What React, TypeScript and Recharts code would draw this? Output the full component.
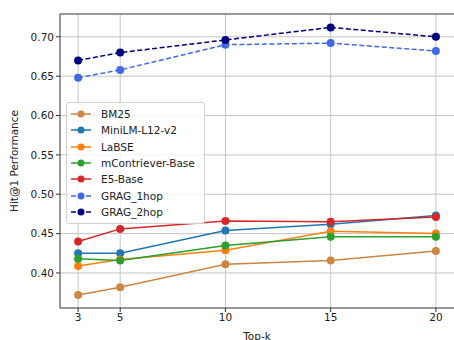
import React from "react";
import { LineChart, Line, XAxis, YAxis, CartesianGrid, ReferenceLine } from "recharts";

const topK = [3, 5, 10, 15, 20];
const bm25 = [0.372, 0.382, 0.411, 0.416, 0.428];
const miniLM = [0.425, 0.425, 0.454, 0.462, 0.473];
const labse = [0.409, 0.417, 0.429, 0.453, 0.45];
const mContriever = [0.418, 0.416, 0.435, 0.446, 0.446];
const e5 = [0.44, 0.456, 0.466, 0.465, 0.471];
const grag1 = [0.648, 0.658, 0.69, 0.692, 0.682];
const grag2 = [0.67, 0.68, 0.696, 0.712, 0.7];
const yTicks = [0.4, 0.45, 0.5, 0.55, 0.6, 0.65, 0.7];
const xDomain = [2.14, 20.86];
const yDomain = [0.3555, 0.729];

const series = [
  { key: "bm25", name: "BM25", color: "#cd853f", dashed: false, values: bm25 },
  { key: "minilm", name: "MiniLM-L12-v2", color: "#1f77b4", dashed: false, values: miniLM },
  { key: "labse", name: "LaBSE", color: "#ff7f0e", dashed: false, values: labse },
  { key: "mcontriever", name: "mContriever-Base", color: "#2ca02c", dashed: false, values: mContriever },
  { key: "e5", name: "E5-Base", color: "#d62728", dashed: false, values: e5 },
  { key: "grag1", name: "GRAG_1hop", color: "#4169e1", dashed: true, values: grag1 },
  { key: "grag2", name: "GRAG_2hop", color: "#000080", dashed: true, values: grag2 },
];

const data = topK.map((k, i) => {
  const row: any = { k };
  series.forEach((s) => (row[s.key] = s.values[i]));
  return row;
});

const font = "DejaVu Sans, sans-serif";

const LegendBox = () => (
  <div
    style={{
      position: "absolute",
      left: 66,
      top: 102,
      width: 139,
      padding: "3px 0",
      background: "rgba(255,255,255,0.8)",
      border: "1px solid #d0d0d0",
      borderRadius: 3,
      fontFamily: font,
      fontSize: 10.5,
      color: "#222",
      boxSizing: "border-box",
    }}
  >
    {series.map((s) => (
      <div key={s.key} style={{ display: "flex", alignItems: "center", height: 16.3 }}>
        <svg width={34} height={12} style={{ flex: "none" }}>
          <line x1={4} x2={24} y1={6} y2={6} stroke={s.color} strokeWidth={1.5} strokeDasharray={s.dashed ? "5 2.5" : undefined} />
          <circle cx={14} cy={6} r={3.5} fill={s.color} />
        </svg>
        <span>{s.name}</span>
      </div>
    ))}
  </div>
);

export default function App() {
  return (
    <div style={{ position: "absolute", left: 0, top: 0, width: 454, height: 340, background: "#fff", overflow: "hidden" }}>
      <LineChart width={454} height={340} data={data} margin={{ top: 14, right: 0, bottom: 0, left: 0 }}>
        <CartesianGrid stroke="#c4c4c4" strokeWidth={1} verticalValues={topK} horizontalValues={yTicks} />
        <XAxis
          dataKey="k"
          type="number"
          domain={xDomain}
          ticks={topK}
          height={32}
          stroke="#333"
          tick={{ fill: "#222", fontSize: 10.5, fontFamily: font }}
          tickSize={4}
          tickLine={{ stroke: "#333" }}
          label={{ value: "Top-k", position: "insideBottom", offset: 0, fill: "#222", fontSize: 10.5, fontFamily: font }}
          allowDataOverflow
        />
        <YAxis
          type="number"
          domain={yDomain}
          ticks={yTicks}
          width={60}
          stroke="#333"
          tickFormatter={(v: number) => v.toFixed(2)}
          tick={{ fill: "#222", fontSize: 10.5, fontFamily: font }}
          tickSize={4}
          allowDataOverflow
          label={{ value: "Hit@1 Performance", angle: -90, position: "insideLeft", offset: 14, style: { textAnchor: "middle" }, fill: "#222", fontSize: 10.5, fontFamily: font }}
        />
        <ReferenceLine y={yDomain[1]} stroke="#777" strokeWidth={1.5} ifOverflow="visible" />
        {series.map((s) => (
          <Line
            key={s.key}
            dataKey={s.key}
            name={s.name}
            stroke={s.color}
            strokeWidth={1.5}
            strokeDasharray={s.dashed ? "5 2.5" : undefined}
            dot={{ r: 4, fill: s.color, stroke: s.color, strokeWidth: 0 }}
            activeDot={false}
            type="linear"
            isAnimationActive={false}
          />
        ))}
      </LineChart>
      <LegendBox />
    </div>
  );
}
